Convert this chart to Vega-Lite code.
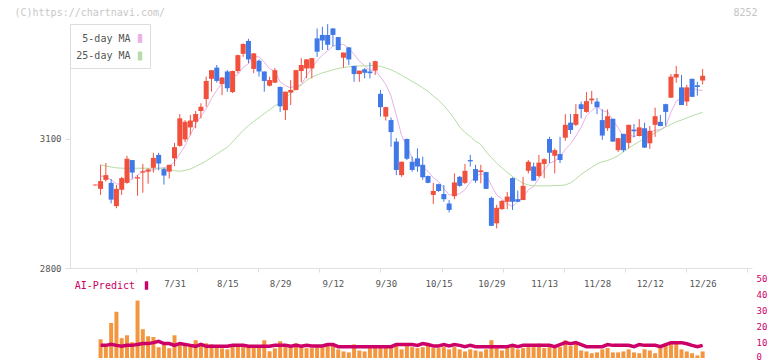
{
"$schema": "https://vega.github.io/schema/vega-lite/v6.json",
"autosize": {"type": "none"},
"padding": {"left": 70, "top": 24, "right": 20, "bottom": 3},
"background": "white",
"width": 682,
"height": 334,
"datasets": {"k": [
{"i":0,"o":2992,"h":2994,"l":2992,"c":2994,"m5":null,"m25":null,"v":null,"a":null},
{"i":1,"o":2984,"h":3040,"l":2970,"c":3002,"m5":3014,"m25":3040,"v":11.7,"a":7.9},
{"i":2,"o":3005,"h":3044,"l":3001,"c":3016,"m5":3012,"m25":3037,"v":7.4,"a":7.9},
{"i":3,"o":2998,"h":3007,"l":2950,"c":2959,"m5":3005,"m25":3035,"v":21.9,"a":8.5},
{"i":4,"o":2944,"h":2993,"l":2939,"c":2984,"m5":2996,"m25":3033,"v":28.9,"a":7.9},
{"i":5,"o":2982,"h":3012,"l":2970,"c":3009,"m5":2994,"m25":3032,"v":12.4,"a":7.3},
{"i":6,"o":2998,"h":3061,"l":2996,"c":3054,"m5":3004,"m25":3032,"v":14.2,"a":7.9},
{"i":7,"o":3051,"h":3051,"l":3008,"c":3022,"m5":3006,"m25":3032,"v":9.9,"a":7.9},
{"i":8,"o":3008,"h":3016,"l":2968,"c":3011,"m5":3016,"m25":3032,"v":35.9,"a":8.5},
{"i":9,"o":3022,"h":3042,"l":2975,"c":3025,"m5":3024,"m25":3032,"v":18.0,"a":9.0},
{"i":10,"o":3024,"h":3032,"l":2996,"c":3029,"m5":3028,"m25":3032,"v":13.6,"a":9.0},
{"i":11,"o":3033,"h":3068,"l":3022,"c":3056,"m5":3028,"m25":3032,"v":13.1,"a":9.6},
{"i":12,"o":3063,"h":3068,"l":3027,"c":3043,"m5":3032,"m25":3032,"v":6.7,"a":10.4},
{"i":13,"o":3030,"h":3033,"l":2994,"c":3015,"m5":3033,"m25":3032,"v":8.2,"a":9.0},
{"i":14,"o":3024,"h":3040,"l":3008,"c":3040,"m5":3037,"m25":3030,"v":6.1,"a":9.0},
{"i":15,"o":3055,"h":3091,"l":3037,"c":3081,"m5":3047,"m25":3026,"v":14.2,"a":7.9},
{"i":16,"o":3084,"h":3158,"l":3082,"c":3148,"m5":3065,"m25":3025,"v":7.9,"a":9.0},
{"i":17,"o":3099,"h":3144,"l":3093,"c":3140,"m5":3085,"m25":3027,"v":9.0,"a":8.5},
{"i":18,"o":3127,"h":3156,"l":3109,"c":3143,"m5":3110,"m25":3030,"v":7.9,"a":7.9},
{"i":19,"o":3140,"h":3165,"l":3125,"c":3158,"m5":3134,"m25":3036,"v":11.1,"a":7.3},
{"i":20,"o":3165,"h":3183,"l":3148,"c":3175,"m5":3153,"m25":3042,"v":7.9,"a":8.5},
{"i":21,"o":3193,"h":3245,"l":3175,"c":3235,"m5":3170,"m25":3049,"v":9.2,"a":7.3},
{"i":22,"o":3240,"h":3260,"l":3210,"c":3260,"m5":3194,"m25":3057,"v":8.5,"a":7.3},
{"i":23,"o":3266,"h":3272,"l":3231,"c":3235,"m5":3213,"m25":3065,"v":7.3,"a":7.3},
{"i":24,"o":3228,"h":3244,"l":3202,"c":3243,"m5":3230,"m25":3073,"v":6.0,"a":7.3},
{"i":25,"o":3257,"h":3260,"l":3210,"c":3218,"m5":3238,"m25":3081,"v":5.4,"a":7.3},
{"i":26,"o":3209,"h":3259,"l":3207,"c":3258,"m5":3243,"m25":3093,"v":7.9,"a":7.9},
{"i":27,"o":3258,"h":3296,"l":3253,"c":3295,"m5":3250,"m25":3107,"v":7.3,"a":7.9},
{"i":28,"o":3298,"h":3322,"l":3291,"c":3321,"m5":3267,"m25":3120,"v":7.3,"a":7.9},
{"i":29,"o":3328,"h":3333,"l":3276,"c":3285,"m5":3275,"m25":3131,"v":7.3,"a":7.3},
{"i":30,"o":3263,"h":3300,"l":3253,"c":3299,"m5":3292,"m25":3141,"v":7.3,"a":7.3},
{"i":31,"o":3282,"h":3285,"l":3245,"c":3257,"m5":3291,"m25":3150,"v":7.3,"a":7.3},
{"i":32,"o":3257,"h":3257,"l":3210,"c":3235,"m5":3279,"m25":3159,"v":11.1,"a":7.3},
{"i":33,"o":3224,"h":3245,"l":3222,"c":3237,"m5":3263,"m25":3168,"v":4.2,"a":7.3},
{"i":34,"o":3231,"h":3265,"l":3230,"c":3260,"m5":3258,"m25":3177,"v":6.0,"a":7.9},
{"i":35,"o":3221,"h":3222,"l":3163,"c":3176,"m5":3233,"m25":3185,"v":10.5,"a":7.9},
{"i":36,"o":3167,"h":3210,"l":3144,"c":3210,"m5":3224,"m25":3194,"v":7.9,"a":7.9},
{"i":37,"o":3208,"h":3237,"l":3179,"c":3214,"m5":3219,"m25":3206,"v":7.3,"a":7.3},
{"i":38,"o":3214,"h":3261,"l":3213,"c":3260,"m5":3224,"m25":3216,"v":9.2,"a":7.9},
{"i":39,"o":3258,"h":3288,"l":3232,"c":3272,"m5":3226,"m25":3226,"v":7.3,"a":7.3},
{"i":40,"o":3264,"h":3286,"l":3241,"c":3285,"m5":3248,"m25":3236,"v":6.1,"a":7.9},
{"i":41,"o":3264,"h":3288,"l":3241,"c":3288,"m5":3264,"m25":3244,"v":6.2,"a":7.5},
{"i":42,"o":3334,"h":3357,"l":3291,"c":3303,"m5":3282,"m25":3249,"v":6.8,"a":7.5},
{"i":43,"o":3342,"h":3361,"l":3307,"c":3329,"m5":3295,"m25":3254,"v":6.8,"a":7.5},
{"i":44,"o":3342,"h":3367,"l":3307,"c":3319,"m5":3305,"m25":3257,"v":8.3,"a":8.4},
{"i":45,"o":3357,"h":3358,"l":3315,"c":3342,"m5":3316,"m25":3261,"v":8.3,"a":8.4},
{"i":46,"o":3337,"h":3337,"l":3306,"c":3307,"m5":3320,"m25":3264,"v":5.4,"a":7.1},
{"i":47,"o":3289,"h":3301,"l":3266,"c":3301,"m5":3320,"m25":3266,"v":4.1,"a":7.1},
{"i":48,"o":3313,"h":3314,"l":3272,"c":3285,"m5":3311,"m25":3268,"v":3.5,"a":7.1},
{"i":49,"o":3270,"h":3270,"l":3233,"c":3251,"m5":3297,"m25":3269,"v":8.5,"a":7.1},
{"i":50,"o":3251,"h":3259,"l":3233,"c":3259,"m5":3281,"m25":3270,"v":4.7,"a":7.1},
{"i":51,"o":3262,"h":3265,"l":3241,"c":3254,"m5":3270,"m25":3270,"v":4.1,"a":7.1},
{"i":52,"o":3257,"h":3278,"l":3241,"c":3253,"m5":3260,"m25":3271,"v":6.2,"a":7.1},
{"i":53,"o":3259,"h":3282,"l":3249,"c":3281,"m5":3260,"m25":3271,"v":6.8,"a":7.1},
{"i":54,"o":3205,"h":3214,"l":3152,"c":3174,"m5":3244,"m25":3269,"v":6.8,"a":7.1},
{"i":55,"o":3152,"h":3175,"l":3143,"c":3174,"m5":3227,"m25":3265,"v":6.8,"a":7.1},
{"i":56,"o":3144,"h":3150,"l":3082,"c":3116,"m5":3200,"m25":3261,"v":6.2,"a":7.1},
{"i":57,"o":3094,"h":3102,"l":3016,"c":3028,"m5":3155,"m25":3255,"v":9.0,"a":8.4},
{"i":58,"o":3016,"h":3048,"l":3012,"c":3047,"m5":3108,"m25":3248,"v":5.4,"a":8.4},
{"i":59,"o":3100,"h":3101,"l":3051,"c":3054,"m5":3084,"m25":3241,"v":9.0,"a":8.4},
{"i":60,"o":3047,"h":3059,"l":3024,"c":3028,"m5":3055,"m25":3234,"v":6.8,"a":8.4},
{"i":61,"o":3055,"h":3078,"l":3024,"c":3036,"m5":3039,"m25":3227,"v":6.2,"a":7.9},
{"i":62,"o":3040,"h":3059,"l":3005,"c":3011,"m5":3035,"m25":3219,"v":6.8,"a":9.0},
{"i":63,"o":3014,"h":3015,"l":2997,"c":2998,"m5":3025,"m25":3211,"v":7.5,"a":8.4},
{"i":64,"o":2970,"h":2998,"l":2949,"c":2979,"m5":3010,"m25":3200,"v":6.2,"a":7.5},
{"i":65,"o":2995,"h":2996,"l":2977,"c":2979,"m5":3001,"m25":3190,"v":6.2,"a":7.5},
{"i":66,"o":2972,"h":2993,"l":2954,"c":2960,"m5":2985,"m25":3178,"v":6.8,"a":8.4},
{"i":67,"o":2950,"h":2958,"l":2929,"c":2935,"m5":2970,"m25":3163,"v":5.4,"a":7.5},
{"i":68,"o":2967,"h":3020,"l":2960,"c":2999,"m5":2970,"m25":3147,"v":6.8,"a":8.4},
{"i":69,"o":3012,"h":3014,"l":2989,"c":2991,"m5":2973,"m25":3128,"v":5.4,"a":7.9},
{"i":70,"o":2998,"h":3042,"l":2995,"c":3026,"m5":2982,"m25":3115,"v":4.1,"a":7.1},
{"i":71,"o":3051,"h":3063,"l":3036,"c":3048,"m5":3000,"m25":3106,"v":5.4,"a":7.9},
{"i":72,"o":3030,"h":3040,"l":2998,"c":3003,"m5":3013,"m25":3095,"v":4.7,"a":7.1},
{"i":73,"o":3023,"h":3040,"l":2997,"c":3027,"m5":3019,"m25":3087,"v":4.1,"a":7.1},
{"i":74,"o":3023,"h":3024,"l":2984,"c":2984,"m5":3017,"m25":3070,"v":5.4,"a":7.1},
{"i":75,"o":2963,"h":2966,"l":2898,"c":2898,"m5":2992,"m25":3057,"v":11.1,"a":7.1},
{"i":76,"o":2904,"h":2947,"l":2892,"c":2940,"m5":2970,"m25":3044,"v":6.2,"a":7.1},
{"i":77,"o":2937,"h":2958,"l":2935,"c":2956,"m5":2961,"m25":3033,"v":4.7,"a":7.1},
{"i":78,"o":2954,"h":2977,"l":2937,"c":2966,"m5":2949,"m25":3022,"v":6.2,"a":7.1},
{"i":79,"o":3009,"h":3011,"l":2935,"c":2954,"m5":2943,"m25":3013,"v":6.8,"a":7.9},
{"i":80,"o":2960,"h":2980,"l":2954,"c":2954,"m5":2954,"m25":3005,"v":5.4,"a":7.1},
{"i":81,"o":2958,"h":3012,"l":2958,"c":2991,"m5":2964,"m25":2997,"v":6.2,"a":7.9},
{"i":82,"o":3026,"h":3051,"l":3020,"c":3047,"m5":2982,"m25":2993,"v":6.8,"a":7.9},
{"i":83,"o":3036,"h":3045,"l":3003,"c":3003,"m5":2990,"m25":2991,"v":6.8,"a":7.9},
{"i":84,"o":3014,"h":3063,"l":3011,"c":3045,"m5":3008,"m25":2991,"v":9.0,"a":7.9},
{"i":85,"o":3042,"h":3055,"l":3009,"c":3053,"m5":3028,"m25":2991,"v":6.2,"a":7.9},
{"i":86,"o":3100,"h":3105,"l":3044,"c":3068,"m5":3043,"m25":2991,"v":6.8,"a":7.9},
{"i":87,"o":3061,"h":3078,"l":3020,"c":3074,"m5":3049,"m25":2992,"v":6.2,"a":7.1},
{"i":88,"o":3065,"h":3105,"l":3044,"c":3051,"m5":3058,"m25":2992,"v":6.8,"a":8.4},
{"i":89,"o":3103,"h":3158,"l":3096,"c":3133,"m5":3076,"m25":2993,"v":11.1,"a":9.6},
{"i":90,"o":3138,"h":3158,"l":3112,"c":3121,"m5":3089,"m25":2998,"v":7.5,"a":9.0},
{"i":91,"o":3133,"h":3181,"l":3130,"c":3158,"m5":3107,"m25":3007,"v":9.0,"a":9.6},
{"i":92,"o":3181,"h":3187,"l":3148,"c":3170,"m5":3127,"m25":3018,"v":4.7,"a":8.4},
{"i":93,"o":3163,"h":3209,"l":3161,"c":3188,"m5":3154,"m25":3026,"v":4.1,"a":7.1},
{"i":94,"o":3190,"h":3212,"l":3181,"c":3194,"m5":3166,"m25":3034,"v":3.0,"a":7.1},
{"i":95,"o":3187,"h":3195,"l":3158,"c":3174,"m5":3176,"m25":3042,"v":3.5,"a":7.1},
{"i":96,"o":3144,"h":3169,"l":3098,"c":3108,"m5":3166,"m25":3047,"v":5.4,"a":7.1},
{"i":97,"o":3125,"h":3169,"l":3119,"c":3153,"m5":3163,"m25":3050,"v":6.2,"a":8.4},
{"i":98,"o":3147,"h":3147,"l":3093,"c":3094,"m5":3144,"m25":3055,"v":3.5,"a":7.9},
{"i":99,"o":3074,"h":3102,"l":3070,"c":3102,"m5":3126,"m25":3061,"v":3.5,"a":7.9},
{"i":100,"o":3112,"h":3112,"l":3070,"c":3074,"m5":3106,"m25":3070,"v":4.1,"a":7.9},
{"i":101,"o":3091,"h":3133,"l":3078,"c":3133,"m5":3111,"m25":3079,"v":5.4,"a":7.9},
{"i":102,"o":3122,"h":3135,"l":3104,"c":3118,"m5":3105,"m25":3087,"v":3.5,"a":7.1},
{"i":103,"o":3107,"h":3146,"l":3106,"c":3127,"m5":3111,"m25":3094,"v":3.0,"a":8.4},
{"i":104,"o":3125,"h":3138,"l":3079,"c":3080,"m5":3107,"m25":3101,"v":5.4,"a":7.9},
{"i":105,"o":3090,"h":3130,"l":3077,"c":3119,"m5":3116,"m25":3107,"v":4.7,"a":7.9},
{"i":106,"o":3133,"h":3173,"l":3105,"c":3153,"m5":3120,"m25":3114,"v":3.0,"a":7.9},
{"i":107,"o":3140,"h":3156,"l":3130,"c":3130,"m5":3122,"m25":3121,"v":6.2,"a":7.1},
{"i":108,"o":3181,"h":3182,"l":3131,"c":3163,"m5":3129,"m25":3128,"v":9.0,"a":8.4},
{"i":109,"o":3196,"h":3251,"l":3196,"c":3245,"m5":3162,"m25":3134,"v":9.0,"a":9.6},
{"i":110,"o":3243,"h":3270,"l":3231,"c":3251,"m5":3188,"m25":3140,"v":9.0,"a":9.6},
{"i":111,"o":3220,"h":3249,"l":3179,"c":3179,"m5":3194,"m25":3144,"v":5.4,"a":9.6},
{"i":112,"o":3187,"h":3226,"l":3177,"c":3220,"m5":3212,"m25":3149,"v":4.1,"a":8.9},
{"i":113,"o":3240,"h":3240,"l":3198,"c":3198,"m5":3219,"m25":3154,"v":3.0,"a":7.9},
{"i":114,"o":3225,"h":3233,"l":3201,"c":3221,"m5":3214,"m25":3158,"v":1.6,"a":7.1},
{"i":115,"o":3236,"h":3263,"l":3227,"c":3247,"m5":3213,"m25":3162,"v":4.1,"a":7.9}
]},
"data": {"name": "k"},
"resolve": {"scale": {"y": "independent"}, "axis": {"x": "independent", "y": "independent"}},
"layer": [
 {
  "layer": [
   {
    "transform": [{"fold": ["m5", "m25"], "as": ["s", "mv"]}],
    "mark": {"type": "line", "strokeWidth": 1},
    "encoding": {
     "x": {"field": "i", "type": "quantitative", "title": null,
       "scale": {"domain": [-3.843, 123.4], "nice": false, "zero": false},
       "axis": {"orient": "bottom", "offset": -90, "values": [7.72, 19.29, 30.86, 42.43, 53.99, 65.56, 77.13, 88.69, 100.26, 111.83, 123.4], "labels": false, "tickSize": 4, "tickColor": "#dddddd", "domainColor": "#e0e0e0", "grid": false, "title": null}},
     "y": {"field": "mv", "type": "quantitative",
       "scale": {"domain": [2800, 3367.4], "range": [244, 0], "nice": false, "zero": false},
       "axis": {"orient": "left", "values": [2800, 3100], "format": "d", "tickSize": 5, "tickColor": "#dddddd", "domainColor": "#e0e0e0", "grid": false, "labelColor": "#555555", "labelFontSize": 9, "labelPadding": 4,
         "title": "(C)https://chartnavi.com/", "titleAngle": 0, "titleX": -56, "titleY": -12, "titleAlign": "left", "titleBaseline": "middle", "titleColor": "#c8c8c8", "titleFontSize": 10, "titleFontWeight": "normal", "titleFont": "DejaVu Sans Mono"}},
     "color": {"field": "s", "type": "nominal",
       "scale": {"domain": ["m5", "m25"], "range": ["#e8b2e8", "#b6dca6"]},
       "legend": {"orient": "none", "legendX": 0, "legendY": 0, "title": null, "padding": 6, "fillColor": "white", "strokeColor": "#dddddd", "cornerRadius": 0,
         "symbolType": "M-0.22,-0.5H0.22V0.5H-0.22Z", "symbolSize": 256, "labelAlign": "right", "labelOffset": -18, "symbolOffset": 55.5, "rowPadding": 2.5,
         "labelFontSize": 10, "labelColor": "#555555", "labelFont": "DejaVu Sans Mono",
         "labelExpr": "datum.value == 'm5' ? '5-day MA' : '25-day MA'",
         "encode": {"symbols": {"update": {"fill": {"signal": "datum.value == 'm5' ? '#e8b2e8' : '#b6dca6'"}, "stroke": {"value": "#555555"}, "strokeWidth": {"value": 1}, "opacity": {"value": 1}}}}}}
    }
   },
   {
    "mark": {"type": "rule", "strokeWidth": 1},
    "encoding": {
     "x": {"field": "i", "type": "quantitative", "title": null},
     "y": {"field": "l", "type": "quantitative"},
     "y2": {"field": "h"},
     "color": {"condition": {"test": "datum.c >= datum.o", "value": "#f0503c"}, "value": "#4078e8"}
    }
   },
   {
    "mark": {"type": "bar", "size": 5},
    "encoding": {
     "x": {"field": "i", "type": "quantitative", "title": null},
     "y": {"field": "o", "type": "quantitative"},
     "y2": {"field": "c"},
     "color": {"condition": {"test": "datum.c >= datum.o", "value": "#f0503c"}, "value": "#4078e8"}
    }
   }
  ]
 },
 {
  "layer": [
   {
    "mark": {"type": "bar", "size": 4, "color": "#f2973f"},
    "encoding": {
     "x": {"field": "i", "type": "quantitative", "title": null,
       "axis": {"orient": "bottom", "offset": -90, "values": [15, 25, 35, 45, 55, 65, 75, 85, 95, 105, 115], "labelExpr": "datum.value == 15 ? '7/31' : datum.value == 25 ? '8/15' : datum.value == 35 ? '8/29' : datum.value == 45 ? '9/12' : datum.value == 55 ? '9/30' : datum.value == 65 ? '10/15' : datum.value == 75 ? '10/29' : datum.value == 85 ? '11/13' : datum.value == 95 ? '11/28' : datum.value == 105 ? '12/12' : '12/26'", "ticks": false, "domain": false, "grid": false, "labelPadding": 11, "labelFontSize": 9, "labelColor": "#555555", "labelFont": "DejaVu Sans Mono", "labelOverlap": false, "labelFlush": false, "title": null}},
     "y": {"field": "v", "type": "quantitative", "scale": {"domain": [0, 50], "range": [334, 254], "nice": false},
       "axis": {"orient": "right", "values": [0, 10, 20, 30, 40, 50], "ticks": false, "domain": false, "grid": false, "labelColor": "#cc0066", "labelFontSize": 9, "labelPadding": 4,
         "labelOffset": {"condition": {"test": "datum.value == 0", "value": -1.5}, "value": 0},
         "title": "8252", "titleAngle": 0, "titleX": 5, "titleY": -12, "titleAlign": "right", "titleBaseline": "middle", "titleColor": "#c4c4c4", "titleFontSize": 10, "titleFontWeight": "normal", "titleFont": "DejaVu Sans Mono"}}
    }
   },
   {
    "mark": {"type": "line", "strokeWidth": 3.5},
    "encoding": {
     "x": {"field": "i", "type": "quantitative", "title": null},
     "y": {"field": "a", "type": "quantitative"},
     "stroke": {"datum": "AI-Predict", "type": "nominal", "scale": {"range": ["#cc0066"]},
       "legend": {"orient": "none", "legendX": 6, "legendY": 253, "title": null, "padding": 0,
         "symbolType": "M-0.2,-0.5H0.2V0.5H-0.2Z", "symbolSize": 289, "labelAlign": "right", "labelOffset": -20, "symbolOffset": 62,
         "labelFontSize": 10, "labelColor": "#cc0066", "labelFont": "DejaVu Sans Mono",
         "encode": {"symbols": {"update": {"fill": {"value": "#cc0066"}, "stroke": {"value": "#cc0066"}, "strokeWidth": {"value": 0}, "opacity": {"value": 1}}}}}}
    }
   }
  ]
 }
],
"config": {
 "view": {"stroke": null},
 "font": "DejaVu Sans Mono",
 "axis": {"labelFont": "DejaVu Sans Mono"},
 "legend": {"labelFont": "DejaVu Sans Mono"}
}
}
